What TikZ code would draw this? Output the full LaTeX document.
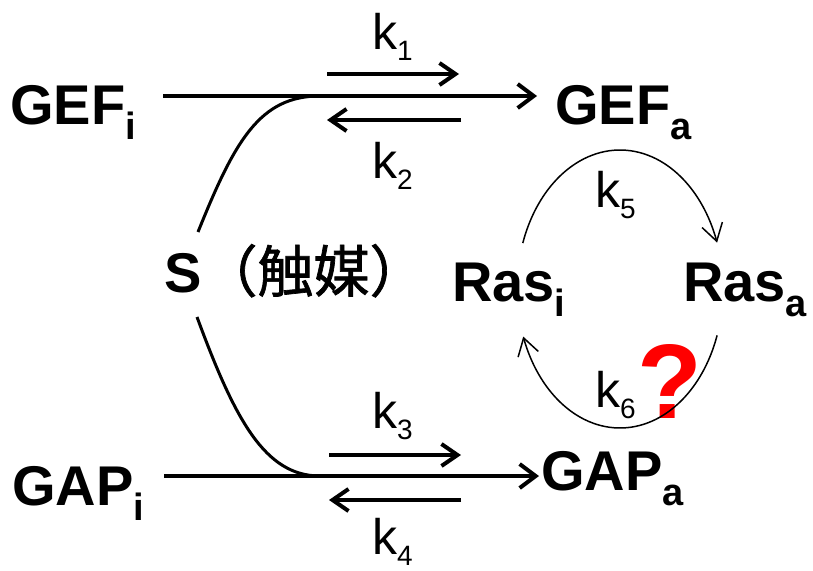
\documentclass[tikz,border=0pt]{standalone}
\usepackage{fontspec}
\setmainfont{Liberation Sans}
\newfontfamily\cjkfont{Noto Sans CJK JP}[FakeBold=1.2]
\usetikzlibrary{arrows.meta}
\newcommand\mysub[1]{\raisebox{-15pt}{\fontsize{38}{38}\selectfont\bfseries #1}}
\newcommand\ksub[1]{\raisebox{-11pt}{\fontsize{28}{28}\selectfont #1}}
\begin{document}
\begin{tikzpicture}[x=1pt,y=-1pt,
 big/.style={font=\fontsize{56}{56}\selectfont\bfseries, inner sep=0pt, anchor=base west},
 klab/.style={font=\fontsize{50}{50}\selectfont, inner sep=0pt, anchor=base west},
 mainarrow/.style={line width=4pt, -{Straight Barb[length=16pt,width=24pt]}},
 karrow/.style={line width=4pt, -{Straight Barb[length=16pt,width=22pt]}},
 link/.style={line width=3pt},
 cyc/.style={line width=1.5pt, -{Straight Barb[length=17pt,width=21pt]}}]
\useasboundingbox (0,0) rectangle (813,570);
% species
\node[big] (GEFi) at (10,124) {GEF\mysub{i}};
\node[big] (GEFa) at (555,124) {GEF\mysub{a}};
\node[big] (GAPi) at (12,505) {GAP\mysub{i}};
\node[big] (GAPa) at (541,490) {GAP\mysub{a}};
\node[big] (Rasi) at (452,301) {Ras\mysub{i}};
\node[big] (Rasa) at (683,301) {Ras\mysub{a}};
\node[big] (S) at (164,292) {S{\cjkfont\mdseries （触媒）}};
% rate labels
\node[klab] (k1) at (372,49) {k\ksub{1}};
\node[klab] (k2) at (372,178) {k\ksub{2}};
\node[klab] (k3) at (372,428) {k\ksub{3}};
\node[klab] (k4) at (372,554) {k\ksub{4}};
\node[klab] (k5) at (595,207) {k\ksub{5}};
\node[klab] (k6) at (595,407) {k\ksub{6}};
\node[font=\fontsize{106}{106}\selectfont\bfseries, text=red, inner sep=0pt, anchor=base west] (Q) at (637,418) {?};
% coordinates
\coordinate (g1s) at (163,96); \coordinate (g1e) at (537,96);
\coordinate (g2s) at (164,476); \coordinate (g2e) at (539,476);
\coordinate (k1s) at (327,74); \coordinate (k1e) at (459,74);
\coordinate (k2s) at (461,120); \coordinate (k2e) at (327,120);
\coordinate (k3s) at (329,455); \coordinate (k3e) at (461,455);
\coordinate (k4s) at (461,500); \coordinate (k4e) at (329,500);
\coordinate (Stop) at (198,232); \coordinate (Sbot) at (197,317);
\coordinate (m1) at (320,96); \coordinate (m2) at (320,476);
% arrows
\draw[mainarrow] (g1s) -- (g1e);
\draw[mainarrow] (g2s) -- (g2e);
\draw[karrow] (k1s) -- (k1e);
\draw[karrow] (k2s) -- (k2e);
\draw[karrow] (k3s) -- (k3e);
\draw[karrow] (k4s) -- (k4e);
\draw[link] (Stop) .. controls (235,140) and (260,96) .. (m1);
\draw[link] (Sbot) .. controls (235,420) and (265,476) .. (m2);
% Ras cycle
\draw[cyc] plot[domain=199.3:340.5, samples=60, smooth] ({620+103*cos(\x)},{289+139*sin(\x)});
\draw[cyc] plot[domain=19.5:160, samples=60, smooth] ({620+103*cos(\x)},{289+139*sin(\x)});
\end{tikzpicture}
\end{document}
